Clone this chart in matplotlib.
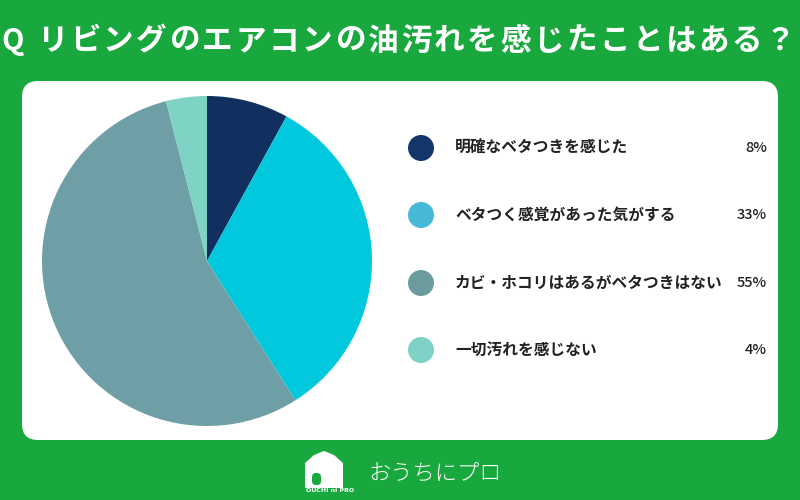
import matplotlib
matplotlib.use("Agg")
import matplotlib.pyplot as plt
from matplotlib.patches import FancyBboxPatch, Polygon, Circle

plt.rcParams['font.family'] = ['Noto Sans CJK JP', 'DejaVu Sans']

title_q = "Q"
title = "リビングのエアコンの油汚れを感じたことはある？"
labels = ["明確なベタつきを感じた", "ベタつく感覚があった気がする",
          "カビ・ホコリはあるがベタつきはない", "一切汚れを感じない"]
shares = [8, 33, 55, 4]
pie_colors = ["#11305f", "#02c8de", "#6f9fa6", "#7dd3c4"]
dot_colors = ["#15366a", "#46b8d8", "#6c9b9e", "#7ed2c5"]

green = "#19a83d"

fig = plt.figure(figsize=(8, 5), dpi=100)
fig.patch.set_facecolor(green)

# full-figure axes in pixel coords for background parts
bg = fig.add_axes([0, 0, 1, 1])
bg.set_xlim(0, 800)
bg.set_ylim(500, 0)
bg.axis("off")

panel = FancyBboxPatch((36, 95), 728, 331, boxstyle="round,pad=14,rounding_size=16",
                       fc="white", ec="none")
bg.add_patch(panel)

# title, spread out char by char
bg.text(13, 41, title_q, color="white", fontsize=21, fontweight="bold",
        ha="center", va="center")
x0, x1 = 52, 780
step = (x1 - x0) / (len(title) - 1)
for i, ch in enumerate(title):
    bg.text(x0 + i * step, 41, ch, color="white", fontsize=22, fontweight="bold",
            ha="center", va="center")

# legend
ys = [148, 215, 283, 350]
for y, lab, val, c in zip(ys, labels, shares, dot_colors):
    bg.add_patch(Circle((421, y), 13, fc=c, ec="none"))
    bg.text(455, y, lab, fontsize=11.3, fontweight="bold", color="#222222",
            va="center", ha="left")
    bg.text(767, y, f"{val}%", fontsize=10.5, fontweight="medium", color="#222222",
            va="center", ha="right")

# logo
house = Polygon([(305, 488), (305, 463), (314, 455), (324, 451), (334, 455),
                 (343, 463), (343, 488)], closed=True, fc="white", ec="none")
bg.add_patch(house)
bg.add_patch(FancyBboxPatch((312, 473), 9, 12, boxstyle="round,pad=0,rounding_size=4",
                            fc=green, ec="none"))
bg.text(330, 490, "OUCHI ni PRO", fontsize=4.5, color="white", ha="center",
        va="center", family=["DejaVu Sans"], fontweight="bold")
bg.text(368, 474, "おうちにプロ", fontsize=16, color="white", ha="left", va="center",
        fontweight="light")

# pie
ax = fig.add_axes([42 / 800, (500 - 426) / 500, 330 / 800, 330 / 500])
ax.pie(shares, colors=pie_colors, startangle=90, counterclock=False,
       wedgeprops=dict(linewidth=0))
ax.set_xlim(-1, 1)
ax.set_ylim(-1, 1)
ax.set_aspect("equal")
ax.axis("off")

fig.savefig("out.png", dpi=100, facecolor=green)
